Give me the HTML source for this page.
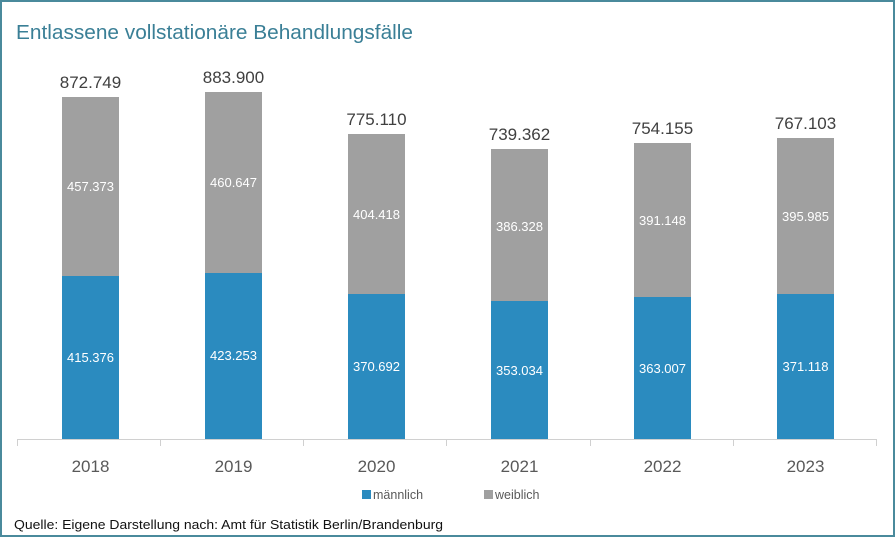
<!DOCTYPE html>
<html><head><meta charset="utf-8"><style>
html,body{margin:0;padding:0;background:#fff}
svg{display:block}
text{font-family:"Liberation Sans",sans-serif}
</style></head><body>
<svg width="896" height="538" xmlns="http://www.w3.org/2000/svg">
<rect x="1" y="1" width="893" height="535" fill="#fff" stroke="#4a8a9c" stroke-width="2"/>
<text x="16" y="39" font-size="20" fill="#3a7f96" textLength="397" lengthAdjust="spacingAndGlyphs">Entlassene vollstationäre Behandlungsfälle</text>
<g stroke="#d0d0d0" stroke-width="1">
<line x1="17" y1="439.5" x2="876" y2="439.5"/>
<line x1="17.5" y1="439" x2="17.5" y2="446"/>
<line x1="160.5" y1="439" x2="160.5" y2="446"/>
<line x1="303.5" y1="439" x2="303.5" y2="446"/>
<line x1="446.5" y1="439" x2="446.5" y2="446"/>
<line x1="590.5" y1="439" x2="590.5" y2="446"/>
<line x1="733.5" y1="439" x2="733.5" y2="446"/>
<line x1="876.5" y1="439" x2="876.5" y2="446"/>
</g>
<g font-size="13" fill="#fff" text-anchor="middle">
<rect x="62" y="97" width="57" height="179" fill="#a0a0a0"/><rect x="62" y="276" width="57" height="163" fill="#2b8bbf"/>
<text x="90.5" y="191">457.373</text><text x="90.5" y="362">415.376</text>
<rect x="205" y="92" width="57" height="181" fill="#a0a0a0"/><rect x="205" y="273" width="57" height="166" fill="#2b8bbf"/>
<text x="233.5" y="187">460.647</text><text x="233.5" y="360">423.253</text>
<rect x="348" y="134" width="57" height="160" fill="#a0a0a0"/><rect x="348" y="294" width="57" height="145" fill="#2b8bbf"/>
<text x="376.5" y="219">404.418</text><text x="376.5" y="371">370.692</text>
<rect x="491" y="149" width="57" height="152" fill="#a0a0a0"/><rect x="491" y="301" width="57" height="138" fill="#2b8bbf"/>
<text x="519.5" y="231">386.328</text><text x="519.5" y="375">353.034</text>
<rect x="634" y="143" width="57" height="154" fill="#a0a0a0"/><rect x="634" y="297" width="57" height="142" fill="#2b8bbf"/>
<text x="662.5" y="225">391.148</text><text x="662.5" y="373">363.007</text>
<rect x="777" y="138" width="57" height="156" fill="#a0a0a0"/><rect x="777" y="294" width="57" height="145" fill="#2b8bbf"/>
<text x="805.5" y="221">395.985</text><text x="805.5" y="371">371.118</text>
</g>
<g font-size="17" fill="#404040" text-anchor="middle">
<text x="90.5" y="88">872.749</text>
<text x="233.5" y="83">883.900</text>
<text x="376.5" y="125">775.110</text>
<text x="519.5" y="140">739.362</text>
<text x="662.5" y="134">754.155</text>
<text x="805.5" y="129">767.103</text>
</g>
<g font-size="17" fill="#595959" text-anchor="middle">
<text x="90.5" y="472">2018</text><text x="233.5" y="472">2019</text><text x="376.5" y="472">2020</text>
<text x="519.5" y="472">2021</text><text x="662.5" y="472">2022</text><text x="805.5" y="472">2023</text>
</g>
<rect x="362" y="490" width="9" height="9" fill="#2b8bbf"/>
<text x="373" y="499" font-size="12.5" fill="#595959">männlich</text>
<rect x="484" y="490" width="9" height="9" fill="#a0a0a0"/>
<text x="495" y="499" font-size="12.5" fill="#595959">weiblich</text>
<text x="14" y="529" font-size="13" fill="#111" textLength="429" lengthAdjust="spacingAndGlyphs">Quelle: Eigene Darstellung nach: Amt für Statistik Berlin/Brandenburg</text>
</svg>
</body></html>
